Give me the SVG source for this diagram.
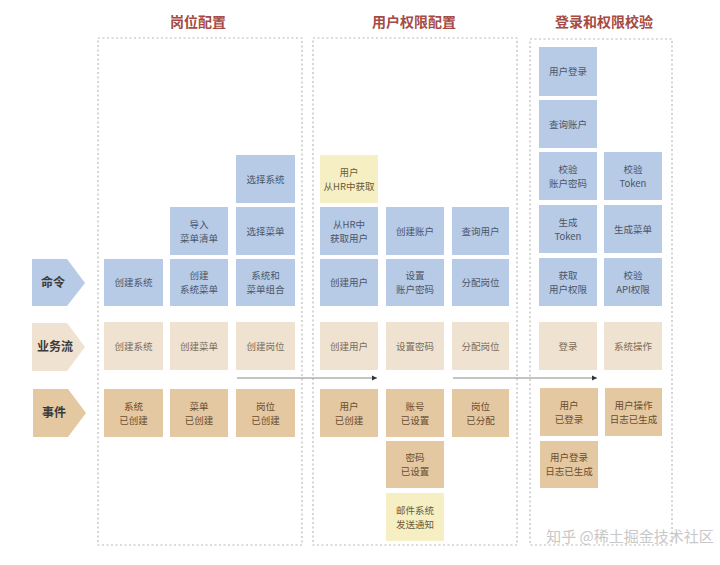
<svg xmlns="http://www.w3.org/2000/svg" width="720" height="565" viewBox="0 0 720 565">
<defs>
<style>
text{font-family:"Noto Sans CJK SC","Liberation Sans",sans-serif;text-anchor:middle}
.title{font-size:14px;font-weight:bold;fill:#a54a44}
.frame{fill:none;stroke:#b9b9b9;stroke-width:1.2;stroke-dasharray:2 2.5}
.cmd rect{fill:#b7cae6}
.cmd text{fill:#4b5668;font-size:9.5px}
.flow rect{fill:#efe2d0}
.flow text{fill:#7a6c5c;font-size:9.5px}
.evt rect{fill:#e3c8a1}
.evt text{fill:#6a4c30;font-size:9.5px}
.ext rect{fill:#f6efc3}
.ext text{fill:#6a5a38;font-size:9.5px}
.lbl text{font-size:12px;font-weight:bold;fill:#3b3b3b}
.conn{stroke:#8a8a8a;stroke-width:1.2;fill:none}
.wm{font-size:15px;fill:#c8c8c8}
</style>
<marker id="ah" markerWidth="6" markerHeight="6" refX="5" refY="3" orient="auto" markerUnits="userSpaceOnUse">
<path d="M0,0.5 L5,3 L0,5.5 z" fill="#333"/>
</marker>
</defs>
<rect width="720" height="565" fill="#fff"/>

<text class="title" x="198" y="27">岗位配置</text>
<text class="title" x="414" y="27">用户权限配置</text>
<text class="title" x="604" y="27">登录和权限校验</text>

<rect class="frame" x="98" y="38" width="204" height="507"/>
<rect class="frame" x="313" y="38" width="204" height="507"/>
<rect class="frame" x="530" y="39" width="142" height="506"/>

<g id="lbl-cmd" class="lbl"><path d="M32,259 H67 L85,283 L67,306 H32 Z" fill="#b7cae6"/><text x="53" y="287">命令</text></g>
<g id="lbl-flow" class="lbl"><path d="M32,323 H67 L85,347 L67,371 H32 Z" fill="#efe2d0"/><text x="55" y="351">业务流</text></g>
<g id="lbl-evt" class="lbl"><path d="M33,389 H68 L86,413 L68,437 H33 Z" fill="#e3c8a1"/><text x="54" y="417">事件</text></g>

<!-- Box 1 -->
<g id="n-select-sys" class="cmd"><rect x="236" y="155" width="59" height="48"/><text x="265.5" y="182.5">选择系统</text></g>
<g id="n-import-menu" class="cmd"><rect x="170" y="207" width="58" height="48"/><text x="199" y="227.5">导入</text><text x="199" y="241.5">菜单清单</text></g>
<g id="n-select-menu" class="cmd"><rect x="236" y="207" width="59" height="48"/><text x="265.5" y="234.5">选择菜单</text></g>
<g id="n-create-sys" class="cmd"><rect x="104" y="259" width="59" height="47"/><text x="133.5" y="286">创建系统</text></g>
<g id="n-create-sysmenu" class="cmd"><rect x="170" y="259" width="58" height="47"/><text x="199" y="279">创建</text><text x="199" y="293">系统菜单</text></g>
<g id="n-sys-menu-combo" class="cmd"><rect x="236" y="259" width="59" height="47"/><text x="265.5" y="279">系统和</text><text x="265.5" y="293">菜单组合</text></g>
<g id="f-create-sys" class="flow"><rect x="104" y="322" width="59" height="48"/><text x="133.5" y="349.5">创建系统</text></g>
<g id="f-create-menu" class="flow"><rect x="170" y="322" width="58" height="48"/><text x="199" y="349.5">创建菜单</text></g>
<g id="f-create-post" class="flow"><rect x="236" y="322" width="59" height="48"/><text x="265.5" y="349.5">创建岗位</text></g>
<g id="e-sys-created" class="evt"><rect x="104" y="389" width="59" height="48"/><text x="133.5" y="409.5">系统</text><text x="133.5" y="423.5">已创建</text></g>
<g id="e-menu-created" class="evt"><rect x="170" y="389" width="58" height="48"/><text x="199" y="409.5">菜单</text><text x="199" y="423.5">已创建</text></g>
<g id="e-post-created" class="evt"><rect x="236" y="389" width="59" height="48"/><text x="265.5" y="409.5">岗位</text><text x="265.5" y="423.5">已创建</text></g>

<!-- Box 2 -->
<g id="n-user-from-hr" class="ext"><rect x="320" y="155" width="58" height="48"/><text x="349" y="175.5">用户</text><text x="349" y="189.5">从HR中获取</text></g>
<g id="n-get-user-hr" class="cmd"><rect x="320" y="207" width="58" height="48"/><text x="349" y="227.5">从HR中</text><text x="349" y="241.5">获取用户</text></g>
<g id="n-create-account" class="cmd"><rect x="386" y="207" width="58" height="48"/><text x="415" y="234.5">创建账户</text></g>
<g id="n-query-user" class="cmd"><rect x="452" y="207" width="57" height="48"/><text x="480.5" y="234.5">查询用户</text></g>
<g id="n-create-user" class="cmd"><rect x="320" y="259" width="58" height="47"/><text x="349" y="286">创建用户</text></g>
<g id="n-set-pwd" class="cmd"><rect x="386" y="259" width="58" height="47"/><text x="415" y="279">设置</text><text x="415" y="293">账户密码</text></g>
<g id="n-assign-post" class="cmd"><rect x="452" y="259" width="57" height="47"/><text x="480.5" y="286">分配岗位</text></g>
<g id="f-create-user" class="flow"><rect x="320" y="322" width="58" height="48"/><text x="349" y="349.5">创建用户</text></g>
<g id="f-set-pwd" class="flow"><rect x="386" y="322" width="58" height="48"/><text x="415" y="349.5">设置密码</text></g>
<g id="f-assign-post" class="flow"><rect x="452" y="322" width="57" height="48"/><text x="480.5" y="349.5">分配岗位</text></g>
<g id="e-user-created" class="evt"><rect x="320" y="389" width="58" height="48"/><text x="349" y="409.5">用户</text><text x="349" y="423.5">已创建</text></g>
<g id="e-account-set" class="evt"><rect x="386" y="389" width="58" height="48"/><text x="415" y="409.5">账号</text><text x="415" y="423.5">已设置</text></g>
<g id="e-post-assigned" class="evt"><rect x="452" y="389" width="57" height="48"/><text x="480.5" y="409.5">岗位</text><text x="480.5" y="423.5">已分配</text></g>
<g id="e-pwd-set" class="evt"><rect x="386" y="441" width="58" height="47"/><text x="415" y="461">密码</text><text x="415" y="475">已设置</text></g>
<g id="x-mail" class="ext"><rect x="386" y="493" width="58" height="48"/><text x="415" y="513.5">邮件系统</text><text x="415" y="527.5">发送通知</text></g>

<!-- Box 3 -->
<g id="n-user-login" class="cmd"><rect x="539" y="47" width="58" height="49"/><text x="568" y="75">用户登录</text></g>
<g id="n-query-account" class="cmd"><rect x="539" y="100" width="58" height="48"/><text x="568" y="127.5">查询账户</text></g>
<g id="n-verify-pwd" class="cmd"><rect x="539" y="152" width="58" height="48"/><text x="568" y="172.5">校验</text><text x="568" y="186.5">账户密码</text></g>
<g id="n-verify-token" class="cmd"><rect x="604" y="152" width="58" height="48"/><text x="633" y="172.5">校验</text><text x="633" y="186.5">Token</text></g>
<g id="n-gen-token" class="cmd"><rect x="539" y="205" width="58" height="48"/><text x="568" y="225.5">生成</text><text x="568" y="239.5">Token</text></g>
<g id="n-gen-menu" class="cmd"><rect x="604" y="205" width="58" height="48"/><text x="633" y="232.5">生成菜单</text></g>
<g id="n-get-perm" class="cmd"><rect x="539" y="258" width="58" height="48"/><text x="568" y="278.5">获取</text><text x="568" y="292.5">用户权限</text></g>
<g id="n-verify-api" class="cmd"><rect x="604" y="258" width="58" height="48"/><text x="633" y="278.5">校验</text><text x="633" y="292.5">API权限</text></g>
<g id="f-login" class="flow"><rect x="539" y="322" width="58" height="48"/><text x="568" y="349.5">登录</text></g>
<g id="f-sys-op" class="flow"><rect x="604" y="322" width="58" height="48"/><text x="633" y="349.5">系统操作</text></g>
<g id="e-logged-in" class="evt"><rect x="540" y="388" width="58" height="48"/><text x="569" y="408.5">用户</text><text x="569" y="422.5">已登录</text></g>
<g id="e-op-log" class="evt"><rect x="605" y="388" width="57" height="48"/><text x="633.5" y="408.5">用户操作</text><text x="633.5" y="422.5">日志已生成</text></g>
<g id="e-login-log" class="evt"><rect x="540" y="441" width="58" height="47"/><text x="569" y="461">用户登录</text><text x="569" y="475">日志已生成</text></g>

<g id="connectors">
<line class="conn" x1="237" y1="378" x2="377" y2="378" marker-end="url(#ah)"/>
<line class="conn" x1="453" y1="378" x2="597" y2="378" marker-end="url(#ah)"/>
</g>

<text class="wm" x="630" y="542">知乎 @稀土掘金技术社区</text>
</svg>
